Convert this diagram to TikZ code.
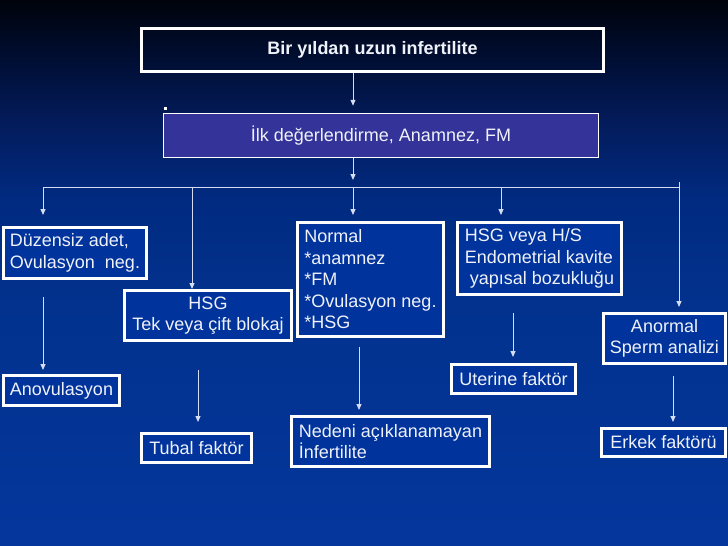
\documentclass[tikz,border=0pt]{standalone}
\usepackage{fontspec}
\setmainfont{Liberation Sans}
\usetikzlibrary{arrows.meta}
\definecolor{bgtop}{HTML}{00030B}
\definecolor{bgdark}{HTML}{000D30}
\definecolor{bgnavy}{HTML}{031B5A}
\definecolor{bgmid}{HTML}{012A80}
\definecolor{bglow}{HTML}{02328E}
\definecolor{bgbot}{HTML}{04369C}
\definecolor{boxblue}{HTML}{00339C}
\definecolor{ilkblue}{HTML}{333399}
\definecolor{linecol}{HTML}{D5DDF2}
\definecolor{yazi}{HTML}{F0F2FA}
% vertical background, bottom (25bp) to top (75bp)
\pgfdeclareverticalshading{arkaplan}{100bp}{color(0bp)=(bgbot); color(25bp)=(bgbot);
  color(47bp)=(bglow); color(57bp)=(bgmid); color(64bp)=(bgnavy);
  color(70bp)=(bgdark); color(75bp)=(bgtop); color(100bp)=(bgtop)}
\tikzset{
  kutu/.style={draw=white,line width=3pt,fill=boxblue,text=yazi,align=left,
    inner sep=0pt,font=\fontsize{18}{21.5}\selectfont},
  ok/.style={draw=linecol,line width=1pt,-{Triangle[length=6pt,width=5pt]}},
  hat/.style={draw=linecol,line width=1pt},
}
\begin{document}
\begin{tikzpicture}[x=1pt,y=-1pt]
  \useasboundingbox (0,0) rectangle (728,546);
  \shade[shading=arkaplan] (0,0) rectangle (728,546);
  % ust kutular
  \node[kutu,fill=none,minimum width=462,minimum height=43] (bir) at (372.5,50) {\bfseries Bir yıldan uzun infertilite};
  \node[kutu,fill=ilkblue,line width=1.5pt,minimum width=435,minimum height=44] (ilk) at (381,135.5) {İlk değerlendirme, Anamnez, FM};
  \fill[white] (163.5,106.5) rectangle (166.5,109.5);
  % birinci sira
  \node[kutu,minimum width=143,minimum height=51] (duz) at (75,253) {Düzensiz adet,\\Ovulasyon\ \ neg.};
  \node[kutu,align=center,minimum width=167,minimum height=50] (hsg) at (208,315.5) {HSG\\Tek veya çift blokaj};
  \node[kutu,minimum width=146,minimum height=114] (norm) at (370.5,279.5) {Normal\\*anamnez\\*FM\\*Ovulasyon neg.\\*HSG};
  \node[kutu,minimum width=164,minimum height=72] (hs) at (539.5,258.5) {HSG veya H/S\\Endometrial kavite\\\hspace*{5pt}yapısal bozukluğu};
  \node[kutu,align=center,minimum width=122,minimum height=50] (anor) at (664.5,338.5) {Anormal\\Sperm analizi};
  % ikinci sira
  \node[kutu,minimum width=116,minimum height=30] (anov) at (61.5,390.5) {Anovulasyon};
  \node[kutu,minimum width=110,minimum height=29] (tub) at (196.5,448) {Tubal faktör};
  \node[kutu,minimum width=198,minimum height=50] (ned) at (390.5,441.5) {Nedeni açıklanamayan\\İnfertilite};
  \node[kutu,minimum width=124,minimum height=29] (ute) at (513.5,379) {Uterine faktör};
  \node[kutu,minimum width=124,minimum height=28] (erk) at (663.5,442.5) {Erkek faktörü};
  % baglantilar
  \coordinate (bus) at (0,187);
  \draw[ok,shorten >=7pt] (bir.south -| 353,0) -- (ilk.north -| 353,0);
  \draw[ok,shorten >=7pt] (ilk.south -| 353,0) -- (bus -| 353,0);
  \draw[hat] (bus -| 43,0) -- (bus -| 679,0);
  \foreach \x/\n/\s in {43/duz/11,192/hsg/0,353/norm/6,501/hs/6}
    {\draw[ok,shorten >=\s pt] (bus -| \x,0) -- (\n.north -| \x,0);}
  \draw[ok,shorten <=-5pt,shorten >=5pt] (bus -| 679,0) -- (anor.north -| 679,0);
  % alt oklar
  \foreach \x/\a/\b/\s/\t in {43/duz/anov/17/4,198/hsg/tub/28/10,359/norm/ned/9/5,513/hs/ute/17/6,673/anor/erk/11/5}
    {\draw[ok,shorten <=\s pt,shorten >=\t pt] (\a.south -| \x,0) -- (\b.north -| \x,0);}
\end{tikzpicture}
\end{document}
